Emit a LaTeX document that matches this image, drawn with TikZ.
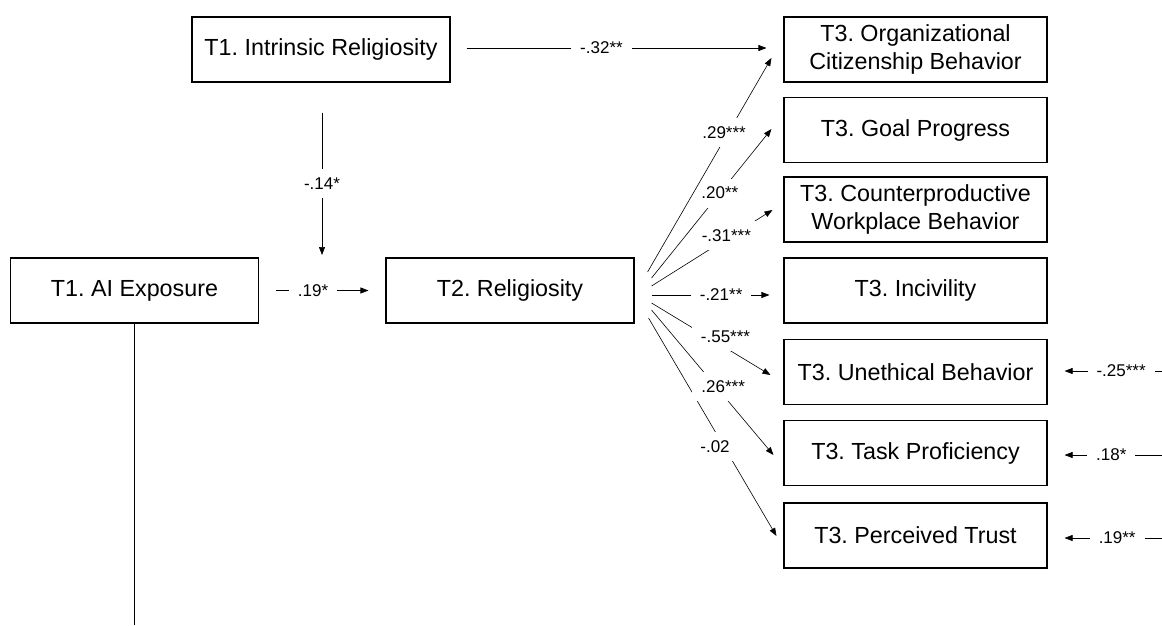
\documentclass[tikz,border=0pt]{standalone}
\usepackage{fontspec}
\setmainfont{Liberation Sans}
\frenchspacing
\usetikzlibrary{arrows.meta}

\begin{document}
\begin{tikzpicture}[x = 1pt, y = -1pt,
    box/.style = {draw, line width = 1.1pt, minimum width = 248pt, minimum height = 65pt,
      inner sep = 0pt, align = center, font = \fontsize{23.3}{28}\selectfont},
    wide/.style = {box, minimum width = 263pt},
    path/.style = {line width = 0.6pt, -{Triangle[length = 8pt, width = 6pt]}},
    coef/.style = {fill = white, inner xsep = 9pt, inner ysep = 8.5pt,
      font = \fontsize{17}{20}\selectfont}]
  \useasboundingbox (0, 0) rectangle (1162, 625);

  \node[box, minimum width = 258pt] (intr) at (321, 49.5) {T1. Intrinsic Religiosity};
  \node[box] (ai) at (134.5, 290.5) {T1. AI Exposure};
  \node[box] (rel) at (510, 290.5) {T2. Religiosity};

  \node[wide] (ocb) at (915.5, 49.5) {T3. Organizational\\Citizenship Behavior};
  \node[wide] (goal) at (915.5, 130) {T3. Goal Progress};
  \node[wide] (cwb) at (915.5, 209.5) {T3. Counterproductive\\Workplace Behavior};
  \node[wide] (inc) at (915.5, 290.5) {T3. Incivility};
  \node[wide] (uneth) at (915.5, 372) {T3. Unethical Behavior};
  \node[wide] (task) at (915.5, 453) {T3. Task Proficiency};
  \node[wide] (trust) at (915.5, 535.5) {T3. Perceived Trust};

  \coordinate (mod) at (322, 290.5);
  \coordinate (aiend) at (134.5, 625);
  \coordinate (su) at (1162, 371);
  \coordinate (st) at (1162, 455);
  \coordinate (sr) at (1162, 538);

  \draw[path] ([shift = {(16, -1.5)}] intr.east) -- ([shift = {(-17, -1.5)}] ocb.west)
    node[coef, pos = 0.45] (c1) {-.32**};
  \draw[path] ([shift = {(1, 30)}] intr.south) -- ([shift = {(0, -35.5)}] mod)
    node[coef, midway] (c2) {-.14*};
  \draw[path] ([shift = {(17, 0)}] ai.east) -- ([shift = {(-17, 0)}] rel.west)
    node[coef, pos = 0.4] (c3) {.19*};
  \draw[line width = 0.9pt] (ai.south) -- (aiend);

  \draw[path] ([shift = {(14, 27.5)}] rel.east) -- ([shift = {(-7, 0.5)}] trust.west)
    node[coef, pos = 0.59, shift = {(-9, 0)}] (c4) {-.02};
  \draw[path] ([shift = {(17, 19.5)}] rel.east) -- ([shift = {(-10, 2)}] task.west)
    node[coef, pos = 0.53, shift = {(7, 0)}] (c5) {.26***};
  \draw[path] ([shift = {(17, 12.5)}] rel.east) -- ([shift = {(-13, 3)}] uneth.west)
    node[coef, pos = 0.5, shift = {(14.5, -2)}] (c6) {-.55***};
  \draw[path] ([shift = {(17, 4.5)}] rel.east) -- ([shift = {(-14, 4.5)}] inc.west)
    node[coef, pos = 0.59] (c7) {-.21**};
  \draw[path] ([shift = {(17, -4.5)}] rel.east) -- ([shift = {(-11, 0.5)}] cwb.west)
    node[coef, pos = 0.66, shift = {(-5, 0)}] (c8) {-.31***};
  \draw[path] ([shift = {(17, -12.5)}] rel.east) -- ([shift = {(-12, -1)}] goal.west)
    node[coef, pos = 0.57] (c9) {.20**};
  \draw[path] ([shift = {(13, -18.5)}] rel.east) -- ([shift = {(-12, 8.5)}] ocb.west)
    node[coef, pos = 0.65, shift = {(-4, 0)}] (c10) {.29***};

  \draw[path] (su) -- ([shift = {(17, -1)}] uneth.east)
    node[coef, pos = 0.42] (c11) {-.25***};
  \draw[path] (st) -- ([shift = {(17, 2)}] task.east)
    node[coef, pos = 0.52] (c12) {.18*};
  \draw[path] (sr) -- ([shift = {(17, 2.5)}] trust.east)
    node[coef, pos = 0.46] (c13) {.19**};
\end{tikzpicture}
\end{document}
